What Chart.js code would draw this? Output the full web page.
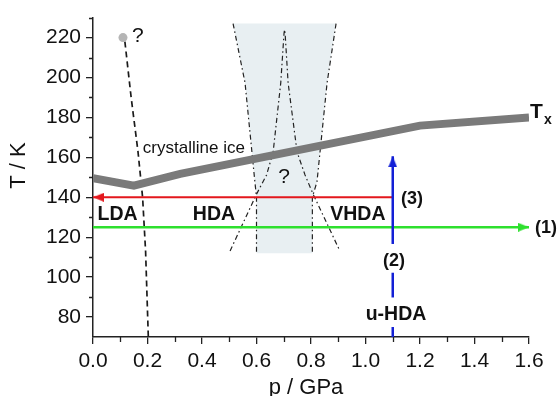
<!DOCTYPE html>
<html>
<head>
<meta charset="utf-8">
<title>Water phase diagram</title>
<script src="https://cdn.jsdelivr.net/npm/chart.js@4/dist/chart.umd.min.js"></script>
<style>
html, body { margin: 0; padding: 0; background: #fff; }
#wrap { width: 559px; height: 396px; }
</style>
</head>
<body>
<div id="wrap"><canvas id="phaseChart" width="559" height="396"></canvas></div>
<script>
// axis ticks
const xTicks = [0, 0.2, 0.4, 0.6, 0.8, 1.0, 1.2, 1.4, 1.6];
const yTicks = [80, 100, 120, 140, 160, 180, 200, 220];

// crystallisation temperature T_x (thick grey line)
const txP = [0, 0.15, 0.32, 1.2, 1.6];
const txT = [149.5, 145.8, 151.7, 175.9, 180];

// crystalline ice boundary (dashed) and its end point
const iceP = [0.117, 0.14, 0.165, 0.182, 0.193, 0.203];
const iceT = [218, 190, 163, 140, 113, 70];
const iceDotP = [0.11];
const iceDotT = [220];

// shaded HDA/VHDA transition region
const shadeP = [0.514, 0.892, 0.859, 0.822, 0.805, 0.805, 0.6, 0.6, 0.594, 0.558, 0.514];
const shadeT = [227, 227, 197.3, 147.8, 140, 112, 112, 140, 147.8, 197.3, 227];

// dash-dot boundaries
const outerLeftP = [0.514, 0.558, 0.594, 0.6, 0.6];
const outerLeftT = [227, 197.3, 147.8, 140, 112];
const outerRightP = [0.892, 0.859, 0.822, 0.805, 0.805];
const outerRightT = [227, 197.3, 147.8, 140, 112];
const innerP = [0.503, 0.601, 0.637, 0.661, 0.689, 0.701, 0.703, 0.705, 0.716, 0.749, 0.778, 0.807, 0.906];
const innerT = [113.1, 141.8, 151.2, 162.6, 197.3, 222.1, 224, 222.1, 197.3, 162.6, 151.2, 141.8, 113.1];

// experimental paths (1), (2), (3)
const path1P = [0, 1.6];
const path1T = [125, 125];
const path2P = [1.1, 1.1];
const path2T = [70, 160.5];
const path3P = [1.1, 0];
const path3T = [140, 140];

const FONT = "'Liberation Sans', Arial, sans-serif";

function zip(ps, ts) {
    return ps.map((p, i) => ({ x: p, y: ts[i] }));
}

// arrow head image, tip in the centre so it sits on the end point
function makeHead(color) {
    const len = 11, half = 4.5;
    const c = document.createElement('canvas');
    c.width = half * 2;
    c.height = len * 2;
    const g = c.getContext('2d');
    g.fillStyle = color;
    g.beginPath();
    g.moveTo(half, len);
    g.lineTo(half * 2, len * 2);
    g.lineTo(0, len * 2);
    g.closePath();
    g.fill();
    return c;
}

const RED = '#e3171d', GREEN = '#2ee02e', BLUE = '#1320d6', GREY = '#7a7a7a';

// text annotations (data coordinates)
const notes = [
    { text: 'LDA', p: 0.09, t: 131.9, font: 'bold 19.5px' },
    { text: 'HDA', p: 0.444, t: 131.9, font: 'bold 19.5px' },
    { text: 'VHDA', p: 0.972, t: 131.9, font: 'bold 19.5px' },
    { text: '(3)', p: 1.171, t: 139.4, font: 'bold 18px' },
    { text: '(1)', p: 1.662, t: 125.2, font: 'bold 18px' },
    { text: '(2)', p: 1.105, t: 108.7, font: 'bold 18px', box: [116.6, 102.2] },
    { text: 'u-HDA', p: 1.112, t: 81.9, font: 'bold 19.5px', box: [89.8, 75] },
    { text: '?', p: 0.165, t: 221.1, font: '21px' },
    { text: '?', p: 0.701, t: 150.3, font: '21px' },
    { text: 'crystalline ice', p: 0.183, t: 165.1, font: '17px', align: 'left' }
];

const notesPlugin = {
    id: 'notes',
    afterDatasetsDraw(chart) {
        const ctx = chart.ctx;
        const xs = chart.scales.x, ys = chart.scales.y;
        ctx.save();
        ctx.textBaseline = 'middle';
        notes.forEach(n => {
            const px = xs.getPixelForValue(n.p);
            const py = ys.getPixelForValue(n.t);
            ctx.font = n.font + ' ' + FONT;
            ctx.textAlign = n.align || 'center';
            if (n.box) {
                const w = ctx.measureText(n.text).width + 6;
                const top = ys.getPixelForValue(n.box[0]);
                const bot = ys.getPixelForValue(n.box[1]);
                ctx.fillStyle = '#fff';
                ctx.fillRect(px - w / 2, top, w, bot - top);
            }
            ctx.fillStyle = '#111';
            ctx.fillText(n.text, px, py + 1);
        });
        // T_x label with subscript
        ctx.textAlign = 'left';
        ctx.font = 'bold 21px ' + FONT;
        const tx = xs.getPixelForValue(1.6) + 1;
        const ty = ys.getPixelForValue(182.5);
        ctx.fillText('T', tx, ty);
        ctx.font = 'bold 14px ' + FONT;
        ctx.fillText('x', tx + 14, ty + 8);
        ctx.restore();
    },
    afterDraw(chart) {
        // minor ticks and axis titles
        const ctx = chart.ctx;
        const xs = chart.scales.x, ys = chart.scales.y;
        const area = chart.chartArea;
        ctx.save();
        ctx.strokeStyle = '#222';
        ctx.lineWidth = 1.3;
        ctx.beginPath();
        for (let i = 0; i < xTicks.length - 1; i++) {
            const px = Math.round(xs.getPixelForValue((xTicks[i] + xTicks[i + 1]) / 2)) + 0.5;
            ctx.moveTo(px, area.bottom);
            ctx.lineTo(px, area.bottom + 5);
        }
        const ymid = [];
        for (let i = 0; i < yTicks.length - 1; i++) ymid.push((yTicks[i] + yTicks[i + 1]) / 2);
        ymid.push(yTicks[yTicks.length - 1] + 10);
        ymid.forEach(v => {
            const py = Math.round(ys.getPixelForValue(v)) + 0.5;
            ctx.moveTo(area.left, py);
            ctx.lineTo(area.left - 4, py);
        });
        ctx.stroke();

        ctx.fillStyle = '#111';
        ctx.font = '22px ' + FONT;
        ctx.textAlign = 'center';
        ctx.textBaseline = 'middle';
        ctx.fillText('p / GPa', (area.left + area.right) / 2 - 5, 388);
        ctx.translate(19, area.top + 148);
        ctx.rotate(-Math.PI / 2);
        ctx.fillText('T / K', 0, 0);
        ctx.restore();
    }
};

const dashDot = [5, 3, 1.5, 3];

const ctx = document.getElementById('phaseChart').getContext('2d');
const chart = new Chart(ctx, {
    type: 'scatter',
    data: {
        datasets: [
            {
                label: 'transition region',
                data: zip(shadeP, shadeT),
                showLine: true,
                fill: 'shape',
                backgroundColor: '#e8eff2',
                borderWidth: 0,
                pointRadius: 0,
                order: 10
            },
            {
                label: 'outer left',
                data: zip(outerLeftP, outerLeftT),
                showLine: true,
                borderColor: '#222',
                borderWidth: 1.2,
                borderDash: dashDot,
                pointRadius: 0,
                order: 9
            },
            {
                label: 'outer right',
                data: zip(outerRightP, outerRightT),
                showLine: true,
                borderColor: '#222',
                borderWidth: 1.2,
                borderDash: dashDot,
                pointRadius: 0,
                order: 9
            },
            {
                label: 'inner',
                data: zip(innerP, innerT),
                showLine: true,
                borderColor: '#222',
                borderWidth: 1.2,
                borderDash: dashDot,
                pointRadius: 0,
                order: 9
            },
            {
                label: 'crystalline ice',
                data: zip(iceP, iceT),
                showLine: true,
                borderColor: '#1a1a1a',
                borderWidth: 1.7,
                borderDash: [6, 4],
                pointRadius: 0,
                order: 8
            },
            {
                label: 'Tx',
                data: zip(txP, txT),
                showLine: true,
                borderColor: GREY,
                borderWidth: 8,
                borderJoinStyle: 'miter',
                pointRadius: 0,
                order: 7
            },
            {
                label: '(1)',
                data: zip(path1P, path1T),
                showLine: true,
                borderColor: GREEN,
                borderWidth: 2.5,
                pointRadius: [0, 5],
                pointStyle: makeHead(GREEN),
                pointRotation: 90,
                order: 6
            },
            {
                label: '(3)',
                data: zip(path3P, path3T),
                showLine: true,
                borderColor: RED,
                borderWidth: 2.2,
                pointRadius: [0, 5],
                pointStyle: makeHead(RED),
                pointRotation: -90,
                order: 5
            },
            {
                label: '(2)',
                data: zip(path2P, path2T),
                showLine: true,
                borderColor: BLUE,
                borderWidth: 2.5,
                pointRadius: [0, 5],
                pointStyle: makeHead(BLUE),
                pointRotation: 0,
                order: 4
            },
            {
                label: 'end point',
                data: zip(iceDotP, iceDotT),
                pointRadius: 4.5,
                pointBackgroundColor: '#b5b5b5',
                pointBorderWidth: 0,
                order: 3
            }
        ]
    },
    options: {
        responsive: false,
        animation: false,
        devicePixelRatio: 1,
        events: [],
        layout: { padding: { left: 0, right: 30, top: 14, bottom: 0 } },
        plugins: {
            legend: { display: false },
            tooltip: { enabled: false }
        },
        scales: {
            x: {
                type: 'linear',
                min: 0,
                max: 1.6,
                afterBuildTicks: s => { s.ticks = xTicks.map(v => ({ value: v })); },
                afterFit: s => { s.height = 59; },
                ticks: {
                    callback: v => v.toFixed(1),
                    font: { family: FONT, size: 21 },
                    color: '#111',
                    padding: 5,
                    maxRotation: 0
                },
                grid: { drawOnChartArea: false, tickLength: 7, color: '#222', lineWidth: 1.3 },
                border: { color: '#222', width: 1.5 }
            },
            y: {
                type: 'linear',
                min: 70,
                max: 230,
                afterBuildTicks: s => { s.ticks = yTicks.map(v => ({ value: v })); },
                afterFit: s => { s.width = 93; },
                ticks: {
                    callback: v => String(v),
                    font: { family: FONT, size: 21 },
                    color: '#111',
                    padding: 5
                },
                grid: { drawOnChartArea: false, tickLength: 7, color: '#222', lineWidth: 1.3 },
                border: { color: '#222', width: 1.5 }
            }
        }
    },
    plugins: [notesPlugin]
});
</script>
</body>
</html>
